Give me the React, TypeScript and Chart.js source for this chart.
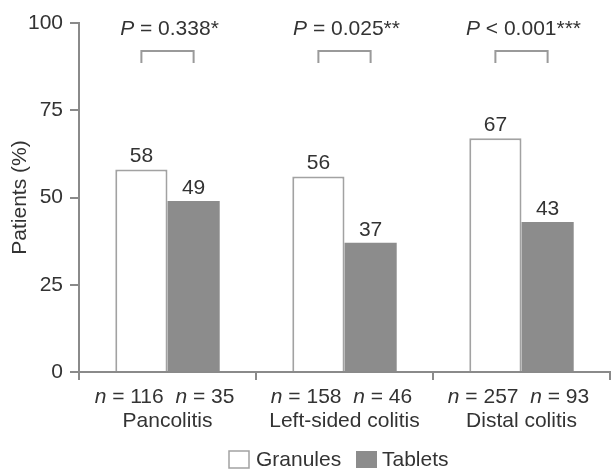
import { useEffect, useRef } from "react";
import { Chart, registerables } from "chart.js";

Chart.register(...registerables);

// Share of patients (%) per disease extent and formulation
const categories = ["Pancolitis", "Left-sided colitis", "Distal colitis"];
const granules = [58, 56, 67];
const tablets = [49, 37, 43];
const granulesN = ["116", "158", "257"];
const tabletsN = ["35", "46", "93"];
const pOperators = ["=", "=", "<"];
const pValues = ["0.338", "0.025", "0.001"];
const pStars = ["*", "**", "***"];
const yTicks = [0, 25, 50, 75, 100];

const FONT = '"Liberation Sans", Arial, Helvetica, sans-serif';
const FS = 21;
const TEXT = "#333333";
const AXIS = "#8a8a8a";
const TABLET_FILL = "#8c8c8c";
const GRANULE_EDGE = "#a2a2a2";

type Seg = { t: string; italic?: boolean };

function drawRich(ctx: CanvasRenderingContext2D, segs: Seg[], cx: number, cy: number, size: number) {
  const fontFor = (s: Seg) => `${s.italic ? "italic " : ""}${size}px ${FONT}`;
  let total = 0;
  const widths = segs.map((s) => {
    ctx.font = fontFor(s);
    const w = ctx.measureText(s.t).width;
    total += w;
    return w;
  });
  let x = cx - total / 2;
  ctx.textAlign = "left";
  ctx.textBaseline = "middle";
  segs.forEach((s, i) => {
    ctx.font = fontFor(s);
    ctx.fillText(s.t, x, cy);
    x += widths[i];
  });
}

const annotations = {
  id: "annotations",
  afterDatasetsDraw(chart: Chart) {
    const ctx = chart.ctx;
    const area = chart.chartArea;
    const xScale = chart.scales.x;
    const m0 = chart.getDatasetMeta(0);
    const m1 = chart.getDatasetMeta(1);
    ctx.save();
    ctx.fillStyle = TEXT;

    // value labels above each bar
    ctx.font = `${FS}px ${FONT}`;
    ctx.textAlign = "center";
    ctx.textBaseline = "middle";
    [m0, m1].forEach((meta, di) => {
      const vals = di === 0 ? granules : tablets;
      meta.data.forEach((el: any, i: number) => {
        ctx.fillText(String(vals[i]), el.x, el.y - 13);
      });
    });

    categories.forEach((cat, i) => {
      const gx = (m0.data[i] as any).x;
      const tx = (m1.data[i] as any).x;
      const mid = (gx + tx) / 2;

      // significance bracket
      ctx.strokeStyle = "#9a9a9a";
      ctx.lineWidth = 2;
      ctx.beginPath();
      ctx.moveTo(gx, 63);
      ctx.lineTo(gx, 51);
      ctx.lineTo(tx, 51);
      ctx.lineTo(tx, 63);
      ctx.stroke();

      ctx.fillStyle = TEXT;
      drawRich(
        ctx,
        [{ t: "P", italic: true }, { t: ` ${pOperators[i]} ${pValues[i]}${pStars[i]}` }],
        mid + 2,
        29,
        FS
      );

      // sample sizes and category name under the axis
      const cx = xScale.getPixelForValue(i);
      drawRich(
        ctx,
        [
          { t: "n", italic: true },
          { t: ` = ${granulesN[i]}  ` },
          { t: "n", italic: true },
          { t: ` = ${tabletsN[i]}` },
        ],
        cx - 3,
        397,
        FS
      );
      ctx.font = `${FS}px ${FONT}`;
      ctx.textAlign = "center";
      ctx.fillText(cat, cx, 421);
    });

    // y-axis title
    ctx.save();
    ctx.translate(20, (area.top + area.bottom) / 2);
    ctx.rotate(-Math.PI / 2);
    ctx.font = `${FS}px ${FONT}`;
    ctx.textAlign = "center";
    ctx.textBaseline = "middle";
    ctx.fillText("Patients (%)", 0, 0);
    ctx.restore();

    // legend
    const ly = 451;
    ctx.lineWidth = 1.5;
    ctx.fillStyle = "#ffffff";
    ctx.strokeStyle = GRANULE_EDGE;
    ctx.fillRect(229, ly, 20, 17);
    ctx.strokeRect(229, ly, 20, 17);
    ctx.fillStyle = TABLET_FILL;
    ctx.fillRect(356, ly, 21, 17);
    ctx.fillStyle = TEXT;
    ctx.font = `${FS}px ${FONT}`;
    ctx.textAlign = "left";
    ctx.textBaseline = "middle";
    ctx.fillText("Granules", 256, ly + 9);
    ctx.fillText("Tablets", 382, ly + 9);

    ctx.restore();
  },
};

export default function App() {
  const ref = useRef<HTMLCanvasElement | null>(null);

  useEffect(() => {
    if (!ref.current) return;
    const chart = new Chart(ref.current, {
      type: "bar",
      data: {
        labels: categories,
        datasets: [
          {
            label: "Granules",
            data: granules,
            backgroundColor: "#ffffff",
            borderColor: GRANULE_EDGE,
            borderWidth: 2,
            categoryPercentage: 0.59,
            barPercentage: 1,
          },
          {
            label: "Tablets",
            data: tablets,
            backgroundColor: TABLET_FILL,
            borderColor: TABLET_FILL,
            borderWidth: 0,
            categoryPercentage: 0.59,
            barPercentage: 1,
          },
        ],
      },
      options: {
        animation: false,
        responsive: true,
        maintainAspectRatio: false,
        layout: { padding: { top: 23, right: 3, bottom: 0, left: 0 } },
        plugins: {
          legend: { display: false },
          tooltip: { enabled: false },
        },
        scales: {
          x: {
            offset: true,
            grid: {
              offset: true,
              drawOnChartArea: false,
              drawTicks: true,
              tickLength: 8,
              color: AXIS,
              lineWidth: 2,
            },
            border: { display: true, color: AXIS, width: 2 },
            ticks: { display: false },
            afterFit: (s: any) => {
              s.height = 98;
            },
          },
          y: {
            min: 0,
            max: 100,
            afterBuildTicks: (s: any) => {
              s.ticks = yTicks.map((v) => ({ value: v }));
            },
            grid: {
              drawOnChartArea: false,
              drawTicks: true,
              tickLength: 9,
              color: AXIS,
              lineWidth: 2,
            },
            border: { display: true, color: AXIS, width: 2 },
            ticks: {
              padding: 7,
              color: TEXT,
              font: { family: FONT, size: FS },
            },
            afterFit: (s: any) => {
              s.width = 79;
            },
          },
        },
      },
      plugins: [annotations],
    });
    return () => chart.destroy();
  }, []);

  return (
    <div style={{ position: "fixed", left: 0, top: 0, width: 613, height: 470, background: "#ffffff" }}>
      <canvas ref={ref} />
    </div>
  );
}
